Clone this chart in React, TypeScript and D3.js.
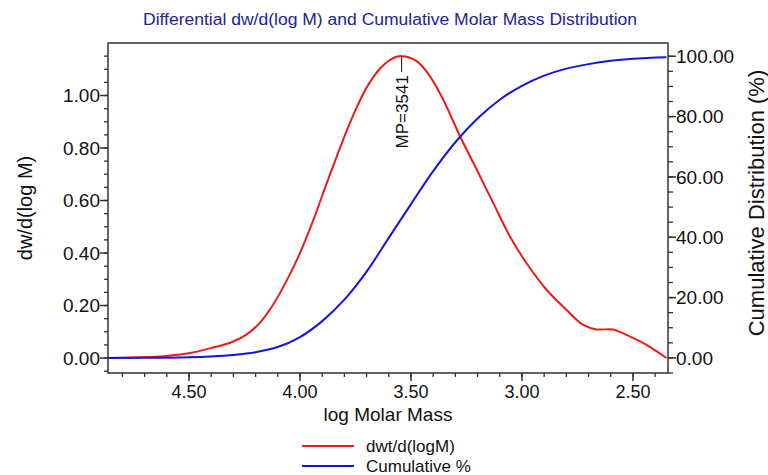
import React from "react";
import * as d3 from "d3";

const diffLogM = [4.865, 4.75, 4.65, 4.6, 4.5, 4.4, 4.3, 4.24, 4.18, 4.12, 4.06, 4.0, 3.94, 3.88, 3.82, 3.76, 3.7, 3.64, 3.59, 3.542, 3.474, 3.415, 3.355, 3.279, 3.204, 3.129, 3.054, 2.979, 2.889, 2.799, 2.724, 2.664, 2.589, 2.529, 2.439, 2.349];
const diffValues = [0.0, 0.002, 0.005, 0.008, 0.018, 0.038, 0.063, 0.09, 0.135, 0.205, 0.295, 0.4, 0.525, 0.665, 0.8, 0.925, 1.03, 1.102, 1.138, 1.15, 1.131, 1.074, 0.985, 0.845, 0.718, 0.59, 0.463, 0.361, 0.26, 0.183, 0.126, 0.109, 0.109, 0.088, 0.05, 0.0];

const cumLogM = [4.865, 4.6, 4.5, 4.4, 4.3, 4.2, 4.1, 4.0, 3.9, 3.8, 3.7, 3.6, 3.5, 3.4, 3.3, 3.2, 3.1, 3.0, 2.9, 2.8, 2.7, 2.6, 2.5, 2.42, 2.349];
const cumValues = [0, 0.08, 0.2, 0.5, 1.0, 1.9, 3.6, 6.9, 12.2, 19.3, 28.6, 39.8, 51.0, 61.9, 71.5, 79.4, 85.6, 90.2, 93.6, 95.9, 97.4, 98.5, 99.2, 99.5, 99.7];

const xTickValues = [4.5, 4.0, 3.5, 3.0, 2.5];
const leftTickValues = [0, 0.2, 0.4, 0.6, 0.8, 1.0];
const rightTickValues = [0, 20, 40, 60, 80, 100];

const peakLogM = 3.542;
const peakValue = 1.15;
const peakLabel = "MP=3541";

const titleText = "Differential dw/d(log M) and Cumulative Molar Mass Distribution";
const xTitle = "log Molar Mass";
const yLeftTitle = "dw/d(log M)";
const yRightTitle = "Cumulative Distribution (%)";
const legendLabels = ["dwt/d(logM)", "Cumulative %"];

const RED = "#ee1a1a";
const BLUE = "#1414e0";
const AXIS = "#333";
const FONT = "Arial, 'Liberation Sans', sans-serif";

export default function App() {
  const L = 108, R = 668, T = 43, B = 373;
  const x = d3.scaleLinear().domain([4.865, 2.342]).range([L, R]);
  const yL = d3.scaleLinear().domain([-0.057, 1.2]).range([B, T]);
  const yR = d3.scaleLinear().domain([-5, 104.4]).range([B, T]);

  const redLine = d3.line<number>()
    .x((_, i) => x(diffLogM[i]))
    .y((d) => yL(d))
    .curve(d3.curveCatmullRom.alpha(0.5))(diffValues) || "";
  const blueLine = d3.line<number>()
    .x((_, i) => x(cumLogM[i]))
    .y((d) => yR(d))
    .curve(d3.curveCatmullRom.alpha(0.5))(cumValues) || "";

  const xMinor = d3.range(48, 23, -1).map((v) => v / 10);
  const leftMinor = d3.range(-1, 24).map((v) => v * 0.05).filter((v) => v >= -0.057 && v <= 1.2);
  const rightMinor = d3.range(-1, 21).map((v) => v * 5).filter((v) => v >= -5 && v <= 104.4);

  const px = x(peakLogM);
  const py = yL(peakValue);

  return (
    <svg width={768} height={475} style={{ position: "absolute", left: 0, top: 0, background: "#fff" }} fontFamily={FONT}>
      <rect width={768} height={475} fill="#fff" />
      <text x={390} y={25} textAnchor="middle" fontSize={16} fill="#22229a" textLength={494} lengthAdjust="spacingAndGlyphs">{titleText}</text>

      {xMinor.map((v) => (
        <line key={"xm" + v} x1={x(v)} x2={x(v)} y1={B} y2={B + 4} stroke={AXIS} strokeWidth={1.3} />
      ))}
      {xTickValues.map((v) => (
        <g key={"x" + v}>
          <line x1={x(v)} x2={x(v)} y1={B} y2={B + 8} stroke={AXIS} strokeWidth={1.5} />
          <text x={x(v)} y={392} dy="0.35em" textAnchor="middle" fontSize={18} fill="#111">{v.toFixed(2)}</text>
        </g>
      ))}

      {leftMinor.map((v) => (
        <line key={"lm" + v} x1={L - 4} x2={L} y1={yL(v)} y2={yL(v)} stroke={AXIS} strokeWidth={1.3} />
      ))}
      {leftTickValues.map((v) => (
        <g key={"l" + v}>
          <line x1={L - 8} x2={L} y1={yL(v)} y2={yL(v)} stroke={AXIS} strokeWidth={1.5} />
          <text x={100} y={yL(v)} dy="0.35em" textAnchor="end" fontSize={19} fill="#111">{v.toFixed(2)}</text>
        </g>
      ))}

      {rightMinor.map((v) => (
        <line key={"rm" + v} x1={R} x2={R + 5} y1={yR(v)} y2={yR(v)} stroke={AXIS} strokeWidth={1.3} />
      ))}
      {rightTickValues.map((v) => (
        <g key={"r" + v}>
          <line x1={R} x2={R + 8} y1={yR(v)} y2={yR(v)} stroke={AXIS} strokeWidth={1.5} />
          <text x={676} y={yR(v)} dy="0.35em" textAnchor="start" fontSize={19} fill="#111">{v.toFixed(2)}</text>
        </g>
      ))}

      <path d={redLine} fill="none" stroke={RED} strokeWidth={2} />
      <path d={blueLine} fill="none" stroke={BLUE} strokeWidth={2} />

      <rect x={L} y={T} width={R - L} height={B - T} fill="none" stroke={AXIS} strokeWidth={1.5} />

      <line x1={px} x2={px} y1={py} y2={py + 16} stroke="#111" strokeWidth={1} />
      <text transform={`translate(${px},${py + 19}) rotate(-90)`} dy="0.35em" textAnchor="end" fontSize={17} fill="#111">{peakLabel}</text>

      <text x={388} y={414} dy="0.35em" textAnchor="middle" fontSize={19} fill="#111">{xTitle}</text>
      <text transform="translate(25,208) rotate(-90)" dy="0.35em" textAnchor="middle" fontSize={20} fill="#111">{yLeftTitle}</text>
      <text transform="translate(756,203) rotate(-90)" dy="0.35em" textAnchor="middle" fontSize={22} fill="#111">{yRightTitle}</text>

      <line x1={302} x2={354} y1={446} y2={446} stroke={RED} strokeWidth={2} />
      <text x={366} y={446} dy="0.35em" fontSize={17} fill="#111">{legendLabels[0]}</text>
      <line x1={302} x2={354} y1={466} y2={466} stroke={BLUE} strokeWidth={2} />
      <text x={366} y={466} dy="0.35em" fontSize={17} fill="#111">{legendLabels[1]}</text>
    </svg>
  );
}
